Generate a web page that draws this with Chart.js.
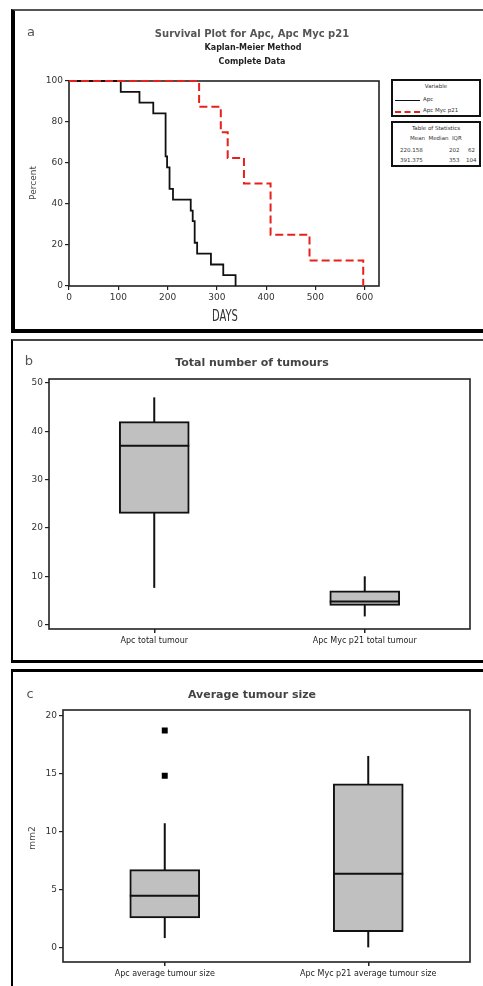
<!DOCTYPE html>
<html>
<head>
<meta charset="utf-8">
<script src="https://cdn.jsdelivr.net/npm/chart.js@4.4.0/dist/chart.umd.min.js"></script>
<style>
  body { margin: 0; width: 483px; height: 986px; background: #fff; position: relative; overflow: hidden; font-family: "DejaVu Sans", sans-serif; }
  .panel { position: absolute; left: 11px; width: 480px; box-sizing: border-box; }
  canvas { position: absolute; left: 0; }
  .t { position: absolute; transform: translate(-50%, -50%); white-space: nowrap; color: #333; }
  .rot { transform: translate(-50%, -50%) rotate(-90deg); }
  .box { position: absolute; box-sizing: border-box; border: 2px solid #111; background: #fff; }
  .tiny { position: absolute; font-size: 5.5px; color: #333; white-space: nowrap; }
</style>
</head>
<body>

<div class="panel" style="top:9px;height:324px;border-top:2px solid #555;border-left:4px solid #000;border-bottom:4px solid #000;"></div>
<div class="panel" style="top:339px;height:324px;border-top:2px solid #444;border-left:2px solid #000;border-bottom:3px solid #000;"></div>
<div class="panel" style="top:669px;height:330px;border-top:3px solid #000;border-left:2px solid #000;"></div>

<canvas id="survival" width="483" height="330" style="top:0"></canvas>
<canvas id="total" width="483" height="322" style="top:336px"></canvas>
<canvas id="size" width="483" height="314" style="top:672px"></canvas>

<!-- panel a texts -->
<div class="t" style="left:31px;top:31px;font-size:13px;color:#555">a</div>
<div class="t" style="left:252px;top:33px;font-size:10px;font-weight:bold;color:#555">Survival Plot for Apc, Apc Myc p21</div>
<div class="t" style="left:253px;top:47px;font-size:8px;font-weight:bold;color:#222">Kaplan-Meier Method</div>
<div class="t" style="left:252px;top:61px;font-size:8px;font-weight:bold;color:#222">Complete Data</div>
<div class="t rot" style="left:33px;top:183px;font-size:9px;color:#444">Percent</div>
<div class="t" style="left:225px;top:315px;font-size:16px;color:#333;transform:translate(-50%,-50%) scaleX(0.62)">DAYS</div>

<div class="box" style="left:391px;top:79px;width:90px;height:38px;">
  <div class="tiny" style="left:0;right:0;top:2px;text-align:center">Variable</div>
  <div style="position:absolute;left:2px;top:19px;width:25px;border-top:1.5px solid #111"></div>
  <div class="tiny" style="left:30px;top:15px">Apc</div>
  <div style="position:absolute;left:2px;top:30px;width:25px;border-top:2px dashed #e8201c"></div>
  <div class="tiny" style="left:30px;top:26px">Apc Myc p21</div>
</div>
<div class="box" style="left:391px;top:121px;width:90px;height:46px;">
  <div class="tiny" style="left:0;right:0;top:2px;text-align:center">Table of Statistics</div>
  <div class="tiny" style="left:17px;top:12px">Mean&nbsp; Median&nbsp; IQR</div>
  <div class="tiny" style="left:7px;top:24px">220.158</div>
  <div class="tiny" style="left:56px;top:24px">202</div>
  <div class="tiny" style="left:75px;top:24px">62</div>
  <div class="tiny" style="left:7px;top:34px">391.375</div>
  <div class="tiny" style="left:56px;top:34px">353</div>
  <div class="tiny" style="left:73px;top:34px">104</div>
</div>

<!-- panel b texts -->
<div class="t" style="left:29px;top:360px;font-size:13px;color:#555">b</div>
<div class="t" style="left:252px;top:362px;font-size:11px;font-weight:bold;color:#444">Total number of tumours</div>

<!-- panel c texts -->
<div class="t" style="left:30px;top:693px;font-size:13px;color:#555">c</div>
<div class="t" style="left:252px;top:694px;font-size:11px;font-weight:bold;color:#444">Average tumour size</div>
<div class="t rot" style="left:32px;top:838px;font-size:9px;color:#444">mm2</div>

<script>
// survival data (Kaplan-Meier steps)
const apcDays = [0, 105, 143, 171, 196, 199, 204, 211, 247, 251, 255, 260, 288, 313, 338];
const apcPercent = [100, 94.7, 89.5, 84.2, 63.2, 57.9, 47.4, 42.1, 36.8, 31.6, 21.1, 15.8, 10.5, 5.3, 0];
const mycDays = [0, 264, 308, 322, 355, 409, 488, 597];
const mycPercent = [100, 87.5, 75, 62.5, 50, 25, 12.5, 0];
const dayTicks = [0, 100, 200, 300, 400, 500, 600];
const percentTicks = [0, 20, 40, 60, 80, 100];

// total number of tumours
const totalLabels = ['Apc total tumour', 'Apc Myc p21 total tumour'];
const totalMin = [7.6, 1.7];
const totalQ1 = [23, 4];
const totalMedian = [37, 4.8];
const totalQ3 = [42, 7];
const totalMax = [47, 10];
const totalTicks = [0, 10, 20, 30, 40, 50];

// average tumour size
const sizeLabels = ['Apc average tumour size', 'Apc Myc p21 average tumour size'];
const sizeMin = [0.8, 0];
const sizeQ1 = [2.55, 1.35];
const sizeMedian = [4.45, 6.35];
const sizeQ3 = [6.7, 14.1];
const sizeMax = [10.7, 16.5];
const sizeOutlierX = ['Apc average tumour size', 'Apc average tumour size'];
const sizeOutlierY = [18.7, 14.8];
const sizeTicks = [0, 5, 10, 15, 20];

const tickFont = { family: 'DejaVu Sans', size: 9 };

// box round the plotting area
const framePlugin = {
  id: 'frame',
  beforeDatasetsDraw(chart) {
    const a = chart.chartArea;
    const ctx = chart.ctx;
    ctx.save();
    ctx.strokeStyle = '#222';
    ctx.lineWidth = 1.6;
    ctx.strokeRect(a.left, a.top, a.right - a.left, a.bottom - a.top);
    ctx.restore();
  }
};

// whiskers and median lines for the box plots
const boxPlugin = {
  id: 'boxWhisker',
  beforeDatasetsDraw(chart, args, opts) {
    const x = chart.scales.x, y = chart.scales.y, ctx = chart.ctx;
    ctx.save();
    ctx.strokeStyle = '#111';
    ctx.lineWidth = 2;
    opts.min.forEach((v, i) => {
      const px = x.getPixelForValue(i);
      ctx.beginPath();
      ctx.moveTo(px, y.getPixelForValue(v));
      ctx.lineTo(px, y.getPixelForValue(opts.max[i]));
      ctx.stroke();
    });
    ctx.restore();
  },
  afterDatasetsDraw(chart, args, opts) {
    const y = chart.scales.y, ctx = chart.ctx;
    const bars = chart.getDatasetMeta(0).data;
    ctx.save();
    ctx.strokeStyle = '#111';
    ctx.lineWidth = 2;
    opts.median.forEach((v, i) => {
      const b = bars[i];
      const py = y.getPixelForValue(v);
      ctx.beginPath();
      ctx.moveTo(b.x - b.width / 2, py);
      ctx.lineTo(b.x + b.width / 2, py);
      ctx.stroke();
    });
    ctx.restore();
  }
};

function valueAxis(ticks, min, max, width) {
  return {
    min: min,
    max: max,
    afterBuildTicks: s => { s.ticks = ticks.map(v => ({ value: v })); },
    afterFit: s => { s.width = width; },
    grid: { display: true, drawOnChartArea: false, tickLength: 4, color: '#222', lineWidth: 1.2 },
    border: { display: false },
    ticks: { color: '#333', font: tickFont, padding: 2, autoSkip: false }
  };
}

// a: survival plot
new Chart(document.getElementById('survival'), {
  type: 'line',
  data: {
    datasets: [
      {
        label: 'Apc Myc p21',
        data: mycDays.map((d, i) => ({ x: d, y: mycPercent[i] })),
        borderColor: '#e8201c',
        borderWidth: 2,
        borderDash: [8, 4],
        stepped: 'before',
        pointRadius: 0,
        clip: 5,
        order: 0
      },
      {
        label: 'Apc',
        data: apcDays.map((d, i) => ({ x: d, y: apcPercent[i] })),
        borderColor: '#111',
        borderWidth: 1.8,
        stepped: 'before',
        pointRadius: 0,
        clip: 5,
        order: 1
      }
    ]
  },
  options: {
    responsive: false,
    animation: false,
    layout: { padding: { top: 81, right: 104, left: 39, bottom: 24 } },
    plugins: { legend: { display: false }, tooltip: { enabled: false } },
    scales: {
      x: {
        type: 'linear',
        min: 0,
        max: 629,
        afterBuildTicks: s => { s.ticks = dayTicks.map(v => ({ value: v })); },
        afterFit: s => { s.height = 20; },
        grid: { display: true, drawOnChartArea: false, tickLength: 4, color: '#222', lineWidth: 1.2 },
        border: { display: false },
        ticks: { color: '#333', font: tickFont, padding: 2, autoSkip: false, maxRotation: 0 }
      },
      y: valueAxis(percentTicks, 0, 100, 30)
    }
  },
  plugins: [framePlugin]
});

function boxChart(id, labels, q1, q3, min, median, max, ticks, yMin, yMax, padding, outX, outY) {
  const datasets = [{
    type: 'bar',
    data: q1.map((v, i) => [v, q3[i]]),
    backgroundColor: '#c0c0c0',
    borderColor: '#111',
    borderWidth: 2,
    borderSkipped: false,
    barThickness: 70
  }];
  if (outX) {
    datasets.push({
      type: 'line',
      data: outX.map((c, i) => ({ x: c, y: outY[i] })),
      showLine: false,
      pointStyle: 'rect',
      pointRadius: 4.2,
      pointBorderWidth: 0,
      pointBackgroundColor: '#000'
    });
  }
  new Chart(document.getElementById(id), {
    type: 'bar',
    data: { labels: labels, datasets: datasets },
    options: {
      responsive: false,
      animation: false,
      layout: { padding: padding },
      plugins: {
        legend: { display: false },
        tooltip: { enabled: false },
        boxWhisker: { min: min, median: median, max: max }
      },
      scales: {
        x: {
          afterFit: s => { s.height = 20; },
          grid: { display: true, offset: false, drawOnChartArea: false, tickLength: 4, color: '#222', lineWidth: 1.5 },
          border: { display: false },
          ticks: { color: '#222', font: { family: 'DejaVu Sans', size: 8 }, padding: 3, maxRotation: 0 }
        },
        y: valueAxis(ticks, yMin, yMax, 30)
      }
    },
    plugins: [framePlugin, boxPlugin]
  });
}

// b: total number of tumours
boxChart('total', totalLabels, totalQ1, totalQ3, totalMin, totalMedian, totalMax,
  totalTicks, -0.9, 50.8, { top: 43, right: 13, left: 19, bottom: 9 });

// c: average tumour size
boxChart('size', sizeLabels, sizeQ1, sizeQ3, sizeMin, sizeMedian, sizeMax,
  sizeTicks, -1.26, 20.46, { top: 38, right: 13, left: 33, bottom: 4 }, sizeOutlierX, sizeOutlierY);
</script>
</body>
</html>
